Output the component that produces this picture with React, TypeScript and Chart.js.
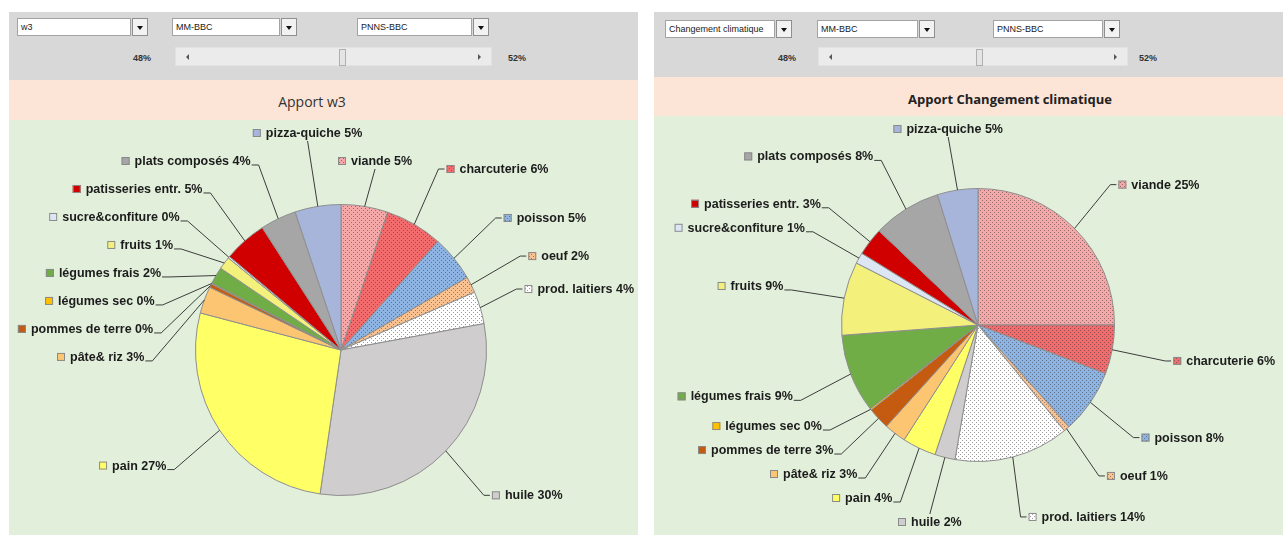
import React, { useEffect, useRef } from "react";
import { Chart, registerables } from "chart.js";
Chart.register(...registerables);

// ---------- data ----------
const categories = [
  "viande", "charcuterie", "poisson", "oeuf", "prod. laitiers", "huile", "pain",
  "pâte& riz", "pommes de terre", "légumes sec", "légumes frais", "fruits",
  "sucre&confiture", "patisseries entr.", "plats composés", "pizza-quiche",
];
const w3Shares = [5.2, 6.4, 5.1, 1.8, 3.6, 30.2, 26.8, 3.0, 0.4, 0.1, 1.9, 1.4, 0.2, 4.8, 4.0, 5.1];
const climateShares = [25.0, 5.8, 7.6, 0.7, 13.6, 2.4, 4.0, 2.6, 2.6, 0.2, 9.3, 8.7, 1.3, 3.3, 8.1, 4.8];
const sliceColors = [
  "#F5A8A8", "#F26B6D", "#8EB4E3", "#FAC191", "#FFFFFF", "#CFCDCD", "#FFFF66",
  "#FCC572", "#C55A11", "#FFC000", "#70AD47", "#F4F07C", "#DDE7F3", "#D00000", "#A6A6A6", "#A7B5DB",
];
const dottedSlices = ["viande", "charcuterie", "poisson", "oeuf", "prod. laitiers"];
const leftSelectors = ["w3", "MM-BBC", "PNNS-BBC"];
const rightSelectors = ["Changement climatique", "MM-BBC", "PNNS-BBC"];
const sliderTexts = ["48%", "52%"];
const titles = ["Apport w3", "Apport Changement climatique"];

// ---------- helpers ----------
function dotPattern(color: string) {
  const c = document.createElement("canvas");
  c.width = 4;
  c.height = 4;
  const x = c.getContext("2d")!;
  x.fillStyle = color;
  x.fillRect(0, 0, 4, 4);
  x.fillStyle = "rgba(50,50,50,0.5)";
  x.fillRect(0, 0, 1, 1);
  x.fillRect(2, 2, 1, 1);
  return x.createPattern(c, "repeat")!;
}

const outLabels = {
  id: "outLabels",
  afterDraw(chart: any, _args: any, opts: any) {
    const meta = chart.getDatasetMeta(0);
    const arcs = meta.data as any[];
    if (!arcs.length) return;
    const ds = chart.data.datasets[0];
    const data = ds.data as number[];
    const bg = ds.backgroundColor as any[];
    const labels = chart.data.labels as string[];
    const total = data.reduce((a, b) => a + b, 0);
    const ctx = chart.ctx as CanvasRenderingContext2D;
    const cx = arcs[0].x, cy = arcs[0].y, r = arcs[0].outerRadius;
    const L = opts.distance ?? 50;
    const H = 14, SQ = 8, GAP = 5;
    ctx.save();
    ctx.font = opts.font;
    const items = arcs.map((arc: any, i: number) => {
      const mid = (arc.startAngle + arc.endAngle) / 2;
      const dx = Math.cos(mid), dy = Math.sin(mid);
      const text = `${labels[i]} ${Math.round((data[i] / total) * 100)}%`;
      const w = SQ + GAP + ctx.measureText(text).width;
      const align = dx > 0.25 ? 0 : dx < -0.25 ? 1 : 0.5;
      const ax = cx + (r + L) * dx, ay = cy + (r + L) * dy;
      return { i, dx, dy, text, w, align, ax, ay, iy: ay, px: cx + r * dx, py: cy + r * dy };
    });
    const Hc = chart.height, Wc = chart.width;
    const box = (it: any) => {
      const x0 = it.ax - it.align * it.w;
      return { x0, x1: x0 + it.w, y0: it.ay - H / 2, y1: it.ay + H / 2 };
    };
    const padX = 6, padY = opts.gap ?? 7;
    for (let iter = 0; iter < 600; iter++) {
      let moved = false;
      for (let a = 0; a < items.length; a++)
        for (let b = a + 1; b < items.length; b++) {
          const A = items[a], B = items[b];
          const ba = box(A), bb = box(B);
          if (ba.x0 < bb.x1 + padX && bb.x0 < ba.x1 + padX) {
            const up = A.iy <= B.iy ? A : B;
            const dn = up === A ? B : A;
            const need = H + padY - (dn.ay - up.ay);
            if (need > 0.01) {
              up.ay -= need / 2;
              dn.ay += need / 2;
              moved = true;
            }
          }
        }
      for (const it of items) {
        const bx = box(it);
        const nx = Math.max(bx.x0, Math.min(cx, bx.x1));
        const ny = Math.max(bx.y0, Math.min(cy, bx.y1));
        const d = Math.hypot(nx - cx, ny - cy);
        const minD = r + 10;
        if (d < minD - 0.01) {
          const k = minD - d;
          if (it.align === 0) it.ax += k;
          else if (it.align === 1) it.ax -= k;
          else it.ay += (it.dy < 0 ? -1 : 1) * k;
          moved = true;
        }
        it.ay = Math.max(H / 2 + 6, Math.min(Hc - H / 2 - 6, it.ay));
        const b2 = box(it);
        if (b2.x0 < 4) it.ax += 4 - b2.x0;
        if (b2.x1 > Wc - 4) it.ax -= b2.x1 - (Wc - 4);
      }
      if (!moved) break;
    }
    ctx.lineWidth = 1;
    for (const it of items) {
      const b = box(it);
      ctx.strokeStyle = "#3c3c3c";
      ctx.beginPath();
      ctx.moveTo(it.px, it.py);
      if (it.align === 0) {
        ctx.lineTo(b.x0 - 8, it.ay);
        ctx.lineTo(b.x0 - 2, it.ay);
      } else if (it.align === 1) {
        ctx.lineTo(b.x1 + 8, it.ay + 4);
        ctx.lineTo(b.x1 + 1, it.ay + 4);
      } else {
        ctx.lineTo(it.ax, it.dy < 0 ? b.y1 + 1 : b.y0 - 1);
      }
      ctx.stroke();
      ctx.fillStyle = bg[it.i];
      ctx.fillRect(b.x0, it.ay - SQ / 2, SQ, SQ);
      ctx.strokeStyle = "#8a8a8a";
      ctx.strokeRect(b.x0 + 0.5, it.ay - SQ / 2 + 0.5, SQ - 1, SQ - 1);
      ctx.fillStyle = "#1c1c1c";
      ctx.textAlign = "left";
      ctx.textBaseline = "middle";
      ctx.fillText(it.text, b.x0 + SQ + GAP, it.ay + 0.5);
    }
    ctx.restore();
  },
};

function PieCanvas(props: { values: number[]; left: number; top: number; width: number; height: number; padding: any; distance: number; gap: number }) {
  const ref = useRef<HTMLCanvasElement>(null);
  useEffect(() => {
    const bg = categories.map((c, i) => (dottedSlices.includes(c) ? dotPattern(sliceColors[i]) : sliceColors[i]));
    const chart = new Chart(ref.current!, {
      type: "pie",
      data: {
        labels: categories,
        datasets: [{ data: props.values, backgroundColor: bg as any, borderColor: "#8e8e8e", borderWidth: 1 }],
      },
      options: {
        responsive: false,
        animation: false,
        devicePixelRatio: 1,
        events: [],
        layout: { padding: props.padding },
        plugins: {
          legend: { display: false },
          tooltip: { enabled: false },
          outLabels: { distance: props.distance, gap: props.gap, font: 'bold 12.5px "Liberation Sans", Arial, sans-serif' },
        } as any,
      },
      plugins: [outLabels as any],
    });
    return () => chart.destroy();
  }, []);
  return (
    <canvas
      ref={ref}
      width={props.width}
      height={props.height}
      style={{ position: "absolute", left: props.left, top: props.top, width: props.width, height: props.height }}
    />
  );
}

const smallFont = '9px "Liberation Sans", Arial, sans-serif';

function Dropdown({ x, y, w, text }: { x: number; y: number; w: number; text: string }) {
  return (
    <div style={{ position: "absolute", left: x, top: y, width: w, height: 18 }}>
      <div
        style={{
          position: "absolute", left: 0, top: 0, width: w - 17, height: 18, boxSizing: "border-box",
          background: "#fff", border: "1px solid #a3a3a3", font: smallFont, color: "#222",
          lineHeight: "16px", paddingLeft: 3, whiteSpace: "nowrap", overflow: "hidden",
        }}
      >
        {text}
      </div>
      <div
        style={{
          position: "absolute", right: 0, top: 0, width: 16, height: 18, boxSizing: "border-box",
          background: "#f2f2f2", border: "1px solid #8f8f8f",
        }}
      >
        <div
          style={{
            position: "absolute", left: 4, top: 7, width: 0, height: 0,
            borderLeft: "3.5px solid transparent", borderRight: "3.5px solid transparent", borderTop: "4px solid #111",
          }}
        />
      </div>
    </div>
  );
}

function Scrollbar({ x, y, w, thumb }: { x: number; y: number; w: number; thumb: number }) {
  return (
    <div style={{ position: "absolute", left: x, top: y, width: w, height: 19, background: "#ebebeb", boxSizing: "border-box", border: "1px solid #e2e2e2" }}>
      <div style={{ position: "absolute", left: 10, top: 6, width: 0, height: 0, borderTop: "3px solid transparent", borderBottom: "3px solid transparent", borderRight: "3px solid #555" }} />
      <div style={{ position: "absolute", right: 10, top: 6, width: 0, height: 0, borderTop: "3px solid transparent", borderBottom: "3px solid transparent", borderLeft: "3px solid #555" }} />
      <div style={{ position: "absolute", left: thumb - x, top: 1, width: 5, height: 15, background: "#e4e4e4", border: "1px solid #b0b0b0" }} />
    </div>
  );
}

function Pct({ cx, y, text }: { cx: number; y: number; text: string }) {
  return (
    <div style={{ position: "absolute", left: cx - 20, top: y, width: 40, textAlign: "center", font: 'bold 9px "Liberation Sans", Arial, sans-serif', color: "#333" }}>
      {text}
    </div>
  );
}

export default function App() {
  return (
    <div style={{ position: "relative", width: 1283, height: 535, overflow: "hidden", background: "#fff" }}>
      <style>{`body{margin:0}`}</style>
      {/* left panel */}
      <div style={{ position: "absolute", left: 9, top: 12, width: 629, height: 68, background: "#d8d8d8" }} />
      <div style={{ position: "absolute", left: 9, top: 80, width: 629, height: 40, background: "#fce4d6" }} />
      <div style={{ position: "absolute", left: 9, top: 120, width: 629, height: 415, background: "#e2efda" }} />
      <Dropdown x={17} y={18} w={131} text={leftSelectors[0]} />
      <Dropdown x={172} y={18} w={125} text={leftSelectors[1]} />
      <Dropdown x={357} y={18} w={132} text={leftSelectors[2]} />
      <Pct cx={142} y={53} text={sliderTexts[0]} />
      <Scrollbar x={175} y={47} w={317} thumb={338} />
      <Pct cx={517} y={53} text={sliderTexts[1]} />
      <div style={{ position: "absolute", left: 212, width: 200, top: 92, textAlign: "center", font: '14px "Open Sans", "Liberation Sans", sans-serif', color: "#333" }}>
        {titles[0]}
      </div>
      <PieCanvas values={w3Shares} left={9} top={120} width={629} height={415} padding={{ left: 186, right: 151, top: 84, bottom: 39 }} distance={64} gap={14} />

      {/* right panel */}
      <div style={{ position: "absolute", left: 654, top: 12, width: 629, height: 65, background: "#d8d8d8" }} />
      <div style={{ position: "absolute", left: 654, top: 77, width: 629, height: 39, background: "#fce4d6" }} />
      <div style={{ position: "absolute", left: 654, top: 116, width: 629, height: 419, background: "#e2efda" }} />
      <Dropdown x={665} y={20} w={127} text={rightSelectors[0]} />
      <Dropdown x={817} y={20} w={118} text={rightSelectors[1]} />
      <Dropdown x={993} y={20} w={127} text={rightSelectors[2]} />
      <Pct cx={787} y={53} text={sliderTexts[0]} />
      <Scrollbar x={818} y={47} w={310} thumb={975} />
      <Pct cx={1148} y={53} text={sliderTexts[1]} />
      <div style={{ position: "absolute", left: 860, width: 300, top: 90, textAlign: "center", font: 'bold 13px "Open Sans", "Liberation Sans", sans-serif', color: "#222" }}>
        {titles[1]}
      </div>
      <PieCanvas values={climateShares} left={654} top={116} width={629} height={419} padding={{ left: 187, right: 168, top: 72, bottom: 73 }} distance={62} gap={10} />
    </div>
  );
}
